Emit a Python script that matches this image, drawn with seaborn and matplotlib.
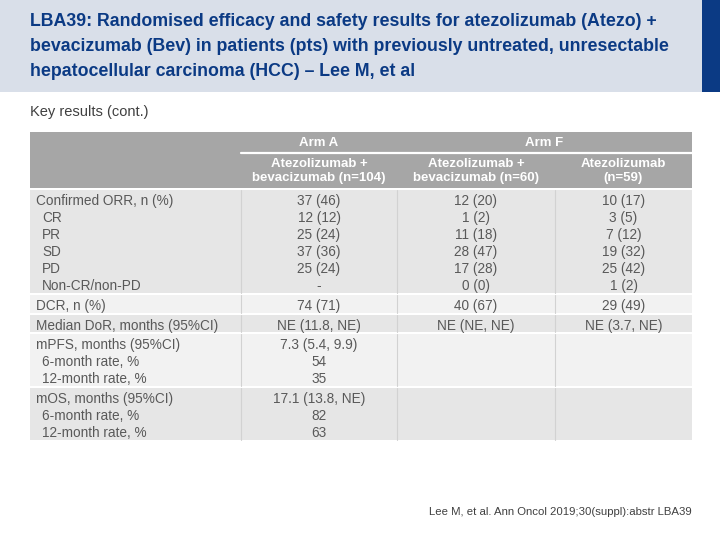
import matplotlib
matplotlib.use("Agg")
import matplotlib.pyplot as plt
from matplotlib.patches import Rectangle
import seaborn as sns

# Table content
title_lines = ["LBA39: Randomised efficacy and safety results for atezolizumab (Atezo) +",
               "bevacizumab (Bev) in patients (pts) with previously untreated, unresectable",
               "hepatocellular carcinoma (HCC) \u2013 Lee M, et al"]
subtitle = "Key results (cont.)"
arm_labels = ["Arm A", "Arm F"]
col_headers = ["Atezolizumab +\nbevacizumab (n=104)",
               "Atezolizumab +\nbevacizumab (n=60)",
               "Atezolizumab\n(n=59)"]

orr_labels = ["Confirmed ORR, n (%)", "CR", "PR", "SD", "PD", "Non-CR/non-PD"]
orr_arm_a = ["37 (46)", "12 (12)", "25 (24)", "37 (36)", "25 (24)", "-"]
orr_arm_f_combo = ["12 (20)", "1 (2)", "11 (18)", "28 (47)", "17 (28)", "0 (0)"]
orr_arm_f_mono = ["10 (17)", "3 (5)", "7 (12)", "19 (32)", "25 (42)", "1 (2)"]

dcr_labels = ["DCR, n (%)"]
dcr_arm_a = ["74 (71)"]
dcr_arm_f_combo = ["40 (67)"]
dcr_arm_f_mono = ["29 (49)"]

dor_labels = ["Median DoR, months (95%CI)"]
dor_arm_a = ["NE (11.8, NE)"]
dor_arm_f_combo = ["NE (NE, NE)"]
dor_arm_f_mono = ["NE (3.7, NE)"]

pfs_labels = ["mPFS, months (95%CI)", "6-month rate, %", "12-month rate, %"]
pfs_arm_a = ["7.3 (5.4, 9.9)", "54", "35"]
pfs_arm_f_combo = ["", "", ""]
pfs_arm_f_mono = ["", "", ""]

os_labels = ["mOS, months (95%CI)", "6-month rate, %", "12-month rate, %"]
os_arm_a = ["17.1 (13.8, NE)", "82", "63"]
os_arm_f_combo = ["", "", ""]
os_arm_f_mono = ["", "", ""]

footnote = "Lee M, et al. Ann Oncol 2019;30(suppl):abstr LBA39"

groups = [
    (orr_labels, orr_arm_a, orr_arm_f_combo, orr_arm_f_mono),
    (dcr_labels, dcr_arm_a, dcr_arm_f_combo, dcr_arm_f_mono),
    (dor_labels, dor_arm_a, dor_arm_f_combo, dor_arm_f_mono),
    (pfs_labels, pfs_arm_a, pfs_arm_f_combo, pfs_arm_f_mono),
    (os_labels, os_arm_a, os_arm_f_combo, os_arm_f_mono),
]

sns.set_theme(style="white")
plt.rcParams['font.family'] = ['Liberation Sans', 'DejaVu Sans']

TEXT = "#595959"
HEAD_GREY = "#a6a6a6"
ROW_DARK = "#e6e6e6"
ROW_LIGHT = "#f2f2f2"
BLUE = "#0b3a84"

fig = plt.figure(figsize=(7.2, 5.4), dpi=100)
ax = fig.add_axes([0, 0, 1, 1])
ax.set_xlim(0, 720)
ax.set_ylim(540, 0)
ax.axis("off")

# header band
ax.add_patch(Rectangle((0, 0), 702, 92, color="#d9dfe9", lw=0))
ax.add_patch(Rectangle((702, 0), 18, 92, color=BLUE, lw=0))
for i, line in enumerate(title_lines):
    ax.text(30, 22 + i * 24.5, line, fontsize=12.8, fontweight="bold", color=BLUE,
            va="center", ha="left")
ax.text(30, 112, subtitle, fontsize=10.5, color="#404040", va="center", ha="left")

# column layout
col_x = [30, 241, 397, 555, 692]
col_mid = [(col_x[i] + col_x[i + 1]) / 2 for i in range(4)]

# table header
ax.add_patch(Rectangle((30, 132), 662, 56, color=HEAD_GREY, lw=0))
ax.plot([241, 692], [153, 153], color="white", lw=1.6)
ax.text(col_mid[1], 143, arm_labels[0], fontsize=9.5, fontweight="bold", color="white",
        ha="center", va="center")
ax.text((col_x[2] + col_x[4]) / 2, 143, arm_labels[1], fontsize=9.5, fontweight="bold",
        color="white", ha="center", va="center")
for j, h in enumerate(col_headers):
    ax.text(col_mid[j + 1], 171, h, fontsize=9.5, fontweight="bold", color="white",
            ha="center", va="center", linespacing=1.2)

# body
line_h = 17
y = 190
for g, (labels, a, f1, f2) in enumerate(groups):
    h = len(labels) * line_h + 0.8
    ax.add_patch(Rectangle((30, y), 662, h, color=ROW_DARK if g % 2 == 0 else ROW_LIGHT, lw=0))
    for xv in col_x[1:4]:
        ax.plot([xv, xv], [y, y + h], color="#d2d2d2", lw=0.8)
    for k in range(len(labels)):
        ty = y + 9.5 + k * line_h
        ax.text(36 if k == 0 else 42, ty, labels[k], fontsize=9.8, color=TEXT,
                ha="left", va="center_baseline")
        for j, vals in enumerate([a, f1, f2]):
            ax.text(col_mid[j + 1], ty, vals[k], fontsize=9.8, color=TEXT,
                    ha="center", va="center_baseline")
    y += h + 2

ax.text(692, 512, footnote, fontsize=8.2, color="#404040", ha="right", va="center")

fig.savefig("out.png", dpi=100)
